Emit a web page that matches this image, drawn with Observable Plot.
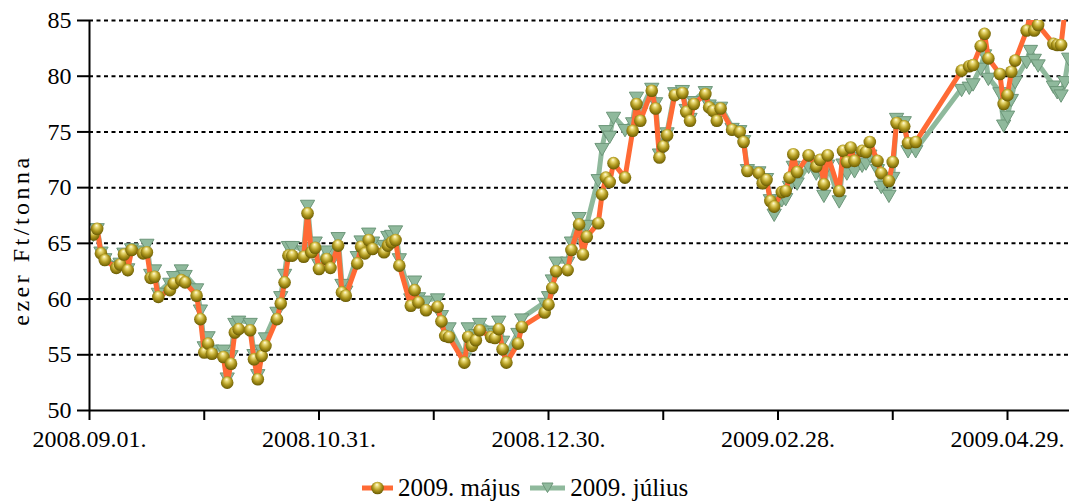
<!DOCTYPE html>
<html><head><meta charset="utf-8">
<script src="https://cdn.jsdelivr.net/npm/d3@7"></script>
<script src="https://cdn.jsdelivr.net/npm/@observablehq/plot@0.6"></script>
<style>
body{margin:0;background:#fff;font-family:"Liberation Serif","DejaVu Serif",serif;color:#000;}
#chart svg, #chart svg text{font-family:"Liberation Serif","DejaVu Serif",serif !important;}
#legend{display:flex;justify-content:flex-start;align-items:center;height:30px;margin-top:8px;font-size:25px;padding-left:362px;}
.item{display:flex;align-items:center;margin-right:10px;}
.item svg{margin-right:5px;}
</style></head><body>
<div id="chart"></div>
<div id="legend"></div>
<script>
const dates = [
"2008-09-02","2008-09-03","2008-09-04","2008-09-05","2008-09-08","2008-09-09","2008-09-10","2008-09-11","2008-09-12",
"2008-09-15","2008-09-16","2008-09-17","2008-09-18","2008-09-19","2008-09-22","2008-09-23","2008-09-25","2008-09-26",
"2008-09-29","2008-09-30","2008-10-01","2008-10-02","2008-10-03","2008-10-06","2008-10-07","2008-10-08","2008-10-09",
"2008-10-10","2008-10-13","2008-10-14","2008-10-15","2008-10-16","2008-10-17","2008-10-20","2008-10-21","2008-10-22",
"2008-10-23","2008-10-24","2008-10-27","2008-10-28","2008-10-29","2008-10-30","2008-10-31","2008-11-02","2008-11-03",
"2008-11-05","2008-11-06","2008-11-07","2008-11-10","2008-11-11","2008-11-12","2008-11-13","2008-11-14","2008-11-17",
"2008-11-18","2008-11-19","2008-11-20","2008-11-21","2008-11-24","2008-11-25","2008-11-26","2008-11-28","2008-12-01",
"2008-12-02","2008-12-03","2008-12-04","2008-12-08","2008-12-09","2008-12-10","2008-12-11","2008-12-12","2008-12-15",
"2008-12-16","2008-12-17","2008-12-18","2008-12-19","2008-12-22","2008-12-23","2008-12-29","2008-12-30","2008-12-31",
"2009-01-01","2009-01-04","2009-01-05","2009-01-07","2009-01-08","2009-01-09","2009-01-12","2009-01-13","2009-01-14",
"2009-01-15","2009-01-16","2009-01-19","2009-01-21","2009-01-22","2009-01-23","2009-01-26","2009-01-27","2009-01-28",
"2009-01-29","2009-01-30","2009-02-01","2009-02-03","2009-02-04","2009-02-05","2009-02-06","2009-02-09","2009-02-10",
"2009-02-11","2009-02-12","2009-02-13","2009-02-16","2009-02-18","2009-02-19","2009-02-20","2009-02-23","2009-02-24",
"2009-02-25","2009-02-26","2009-02-27","2009-03-01","2009-03-02","2009-03-03","2009-03-04","2009-03-05","2009-03-08",
"2009-03-10","2009-03-11","2009-03-12","2009-03-13","2009-03-16","2009-03-17","2009-03-18","2009-03-19","2009-03-20",
"2009-03-22","2009-03-23","2009-03-24","2009-03-26","2009-03-27","2009-03-29","2009-03-30","2009-03-31","2009-04-02",
"2009-04-03","2009-04-05","2009-04-17","2009-04-19","2009-04-20","2009-04-22","2009-04-23","2009-04-24","2009-04-27",
"2009-04-28","2009-04-29","2009-04-30","2009-05-01","2009-05-04","2009-05-05","2009-05-06","2009-05-07","2009-05-11",
"2009-05-12","2009-05-13","2009-05-14","2009-05-15"];
const may = [
65.8,66.3,64.1,63.5,62.8,63.1,64.0,62.6,64.4,
64.1,64.2,61.9,62.0,60.2,60.8,61.4,61.7,61.5,
60.3,58.2,55.2,56.0,55.1,54.8,52.5,54.2,57.0,
57.3,57.2,54.6,52.8,54.9,55.8,58.2,59.6,61.5,
63.9,63.9,63.8,67.7,64.2,64.6,62.7,63.6,62.8,
64.8,60.6,60.3,63.2,64.7,64.1,65.3,64.5,64.2,
64.8,65.1,65.3,63.0,59.4,60.8,59.7,59.0,59.3,
58.0,56.7,56.6,54.3,56.6,55.8,56.3,57.2,56.6,
56.5,57.3,55.5,54.3,56.0,57.5,58.8,59.5,61.0,
62.5,62.6,64.4,66.7,64.0,65.6,66.8,69.4,70.9,
70.5,72.2,70.9,75.1,77.5,76.0,78.7,77.1,72.7,
73.7,74.7,78.3,78.5,76.8,76.0,77.5,78.4,77.2,
76.9,76.0,77.1,75.2,75.0,74.1,71.5,71.3,70.4,
70.7,68.8,68.3,69.6,69.7,70.9,73.0,71.4,72.9,
71.9,72.5,70.3,72.9,69.7,73.3,72.3,73.6,72.4,
73.3,73.2,74.1,72.4,71.3,70.6,72.3,75.8,75.5,
74.0,74.1,80.5,80.9,81.0,82.7,83.8,81.6,80.2,
77.5,78.3,80.4,81.4,84.1,85.6,84.1,84.6,82.9,
82.8,82.8,85.8,87.5];
const jul = [
65.9,66.4,64.3,63.7,63.0,63.3,64.2,62.8,64.6,
64.4,65.0,62.3,62.7,60.6,61.5,62.1,62.7,62.2,
61.0,59.1,55.8,56.7,55.5,55.5,53.0,55.0,57.9,
58.1,57.9,55.1,53.3,55.5,56.6,58.9,60.3,62.3,
64.8,64.8,64.4,68.5,64.7,65.2,63.2,64.4,63.3,
65.6,61.4,60.8,63.9,65.3,64.8,66.0,65.2,64.9,
65.7,65.8,66.2,63.7,60.1,61.7,60.2,59.9,60.1,
58.6,57.4,57.5,54.8,57.5,56.5,56.9,57.9,57.2,
57.0,58.1,56.3,55.0,57.0,58.3,59.7,60.3,61.8,
63.4,63.4,65.2,67.4,65.0,66.7,70.8,73.6,75.2,
74.7,76.4,75.3,75.9,78.2,76.8,79.0,77.7,73.1,
74.0,75.0,78.6,78.8,77.1,76.3,77.8,78.7,77.5,
77.1,76.3,77.3,75.4,75.2,74.3,71.7,71.5,70.6,
70.9,69.0,67.7,69.0,69.1,70.2,72.0,70.5,72.0,
71.4,71.8,69.4,72.1,68.9,72.2,71.4,72.8,71.6,
72.1,72.3,73.0,71.7,70.2,69.4,71.0,76.3,76.0,
73.4,73.4,78.9,79.1,79.4,80.8,82.0,79.9,78.6,
75.7,76.5,78.0,79.6,81.4,82.4,81.6,81.1,79.2,
78.7,78.4,79.6,81.7];
const seriesNames = ["2009. május", "2009. július"];
const seriesColors = ["#ff6a35", "#8fb99c"];
const yTicks = [50, 55, 60, 65, 70, 75, 80, 85];
const gridValues = [55, 60, 65, 70, 75, 80, 85];
const xTickDates = ["2008-09-01","2008-10-01","2008-10-31","2008-11-30","2008-12-30","2009-01-29","2009-02-28","2009-03-30","2009-04-29"];
const xTickLabels = ["2008.09.01.","","2008.10.31.","","2008.12.30.","","2009.02.28.","","2009.04.29."];
const yLabel = "ezer Ft/tonna";

const FONT = "'Liberation Serif', 'DejaVu Serif', serif";
const parse = d3.utcParse("%Y-%m-%d");
const rows = dates.map((d, i) => ({date: parse(d), may: may[i], jul: jul[i]}));
const ticks = xTickDates.map(parse);
const labelMap = new Map(ticks.map((t, i) => [+t, xTickLabels[i]]));
const x0 = parse("2008-09-01");
const x1 = new Date(Date.UTC(2009, 4, 15, 5));

function ballGradient(id) {
  return `<radialGradient id="${id}" cx="50%" cy="45%" r="60%" fx="45%" fy="22%">
    <stop offset="0%" stop-color="#fffbe2"/>
    <stop offset="22%" stop-color="#eadb78"/>
    <stop offset="55%" stop-color="#b39c22"/>
    <stop offset="85%" stop-color="#7a6a08"/>
    <stop offset="100%" stop-color="#574a00"/>
  </radialGradient>`;
}
const defsMark = () => {
  const g = d3.create("svg:defs");
  g.html(ballGradient("ball"));
  return g.node();
};

const plot = Plot.plot({
  width: 1070, height: 465,
  marginLeft: 89, marginRight: 1, marginTop: 20, marginBottom: 55,
  style: {fontFamily: FONT, fontSize: "24px", color: "#000", background: "#fff", overflow: "visible"},
  x: {type: "utc", domain: [x0, x1]},
  y: {domain: [50, 85]},
  marks: [
    defsMark,
    Plot.ruleY(gridValues, {stroke: "#000", strokeWidth: 2, strokeDasharray: "4,3.5"}),
    Plot.lineY(rows, {x: "date", y: "jul", stroke: seriesColors[1], strokeWidth: 5, clip: true}),
    Plot.dot(rows, {x: "date", y: "jul", symbol: "triangle", rotate: 180, r: 5.3, fill: seriesColors[1], stroke: "#6c9679", strokeWidth: 1, clip: true}),
    Plot.lineY(rows, {x: "date", y: "may", stroke: seriesColors[0], strokeWidth: 5, clip: true}),
    Plot.dot(rows, {x: "date", y: "may", r: 6.3, fill: "url(#ball)", clip: true}),
    Plot.ruleY([50], {stroke: "#000", strokeWidth: 2}),
    Plot.ruleX([x0], {stroke: "#000", strokeWidth: 2}),
    Plot.axisY({ticks: yTicks, tickSize: 12, tickPadding: 6, strokeWidth: 2, fontFamily: FONT, fontSize: 24, tickFormat: d => String(d), label: null}),
    Plot.axisX({ticks: ticks, tickSize: 10, tickPadding: 9, strokeWidth: 2, fontFamily: FONT, fontSize: 24, tickFormat: d => labelMap.get(+d), label: null})
  ]
});
document.getElementById("chart").appendChild(plot);
d3.select(plot).append("text")
  .attr("transform", "translate(21,240) rotate(-90)")
  .attr("text-anchor", "middle")
  .attr("dominant-baseline", "central")
  .attr("font-size", 24)
  .attr("letter-spacing", "3.5px")
  .attr("fill", "#000")
  .text(yLabel);

const legend = document.getElementById("legend");
seriesNames.forEach((name, i) => {
  const item = document.createElement("div");
  item.className = "item";
  const w = i === 0 ? 31 : 35;
  const c = w / 2;
  const marker = i === 0
    ? `<defs>${ballGradient("ballL")}</defs><circle cx="${c}" cy="11" r="6.3" fill="url(#ballL)"/>`
    : `<path d="M${c - 5.5},6 L${c + 5.5},6 L${c},15.5 Z" fill="${seriesColors[1]}" stroke="#6c9679" stroke-width="1"/>`;
  item.innerHTML = `<svg width="${w}" height="22"><line x1="0" y1="11" x2="${w}" y2="11" stroke="${seriesColors[i]}" stroke-width="5"/>${marker}</svg><span>${name}</span>`;
  legend.appendChild(item);
});
</script>
</body></html>
